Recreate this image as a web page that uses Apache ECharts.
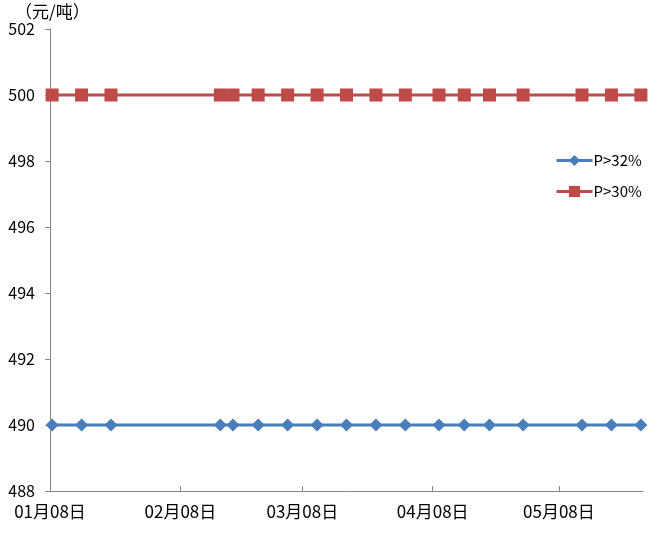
<!DOCTYPE html>
<html><head><meta charset="utf-8">
<script src="https://cdn.jsdelivr.net/npm/echarts@6/dist/echarts.min.js"></script>
<style>html,body{margin:0;padding:0;background:#fff}#c{width:667px;height:542px}</style>
</head><body><div id="c"></div>
<script>
const dates = ['2016-01-08','2016-01-15','2016-01-22','2016-02-17','2016-02-20','2016-02-26','2016-03-04','2016-03-11','2016-03-18','2016-03-25','2016-04-01','2016-04-09','2016-04-15','2016-04-21','2016-04-29','2016-05-13','2016-05-20','2016-05-27'];
const p32 = [490,490,490,490,490,490,490,490,490,490,490,490,490,490,490,490,490,490];
const p30 = [500,500,500,500,500,500,500,500,500,500,500,500,500,500,500,500,500,500];
const tickDates = ['2016-01-08','2016-02-08','2016-03-08','2016-04-08','2016-05-08'];
const tickLabels = ['01月08日','02月08日','03月08日','04月08日','05月08日'];
const startDate = '2016-01-08';
const endDate = '2016-05-28';

const DAY = 86400000;
const day = s => (Date.parse(s + 'T00:00:00Z') - Date.parse(startDate + 'T00:00:00Z')) / DAY;
const tickVals = tickDates.map(day);
const font = '"Noto Sans CJK SC", "Noto Sans", sans-serif';
const mk = (vals) => dates.map((d, i) => [day(d) + 0.5, vals[i]]);

const chart = echarts.init(document.getElementById('c'), null, {renderer: 'canvas'});
chart.setOption({
  animation: false,
  backgroundColor: '#fff',
  textStyle: {fontFamily: font},
  title: {text: '（元/吨）', left: 10, top: -2, textStyle: {fontSize: 17, fontWeight: 'normal', color: '#000', fontFamily: font}},
  grid: {left: 50, right: 24, top: 29, bottom: 51, containLabel: false},
  legend: {
    orient: 'vertical', left: 550, top: 148, itemGap: 16, itemWidth: 36, itemHeight: 14,
    lineStyle: {width: 3},
    textStyle: {fontSize: 15, color: '#000', fontFamily: font, padding: [0,0,0,-4]},
    data: ['P>32%', 'P>30%']
  },
  xAxis: {
    type: 'value', min: 0, max: day(endDate),
    splitLine: {show: false},
    axisLine: {lineStyle: {color: '#868686', width: 1}},
    axisTick: {show: true, inside: true, length: 5, customValues: tickVals, lineStyle: {color: '#868686'}},
    axisLabel: {customValues: tickVals, margin: 12, fontSize: 17, color: '#000', fontFamily: font,
      formatter: v => tickLabels[tickVals.indexOf(v)] || ''}
  },
  yAxis: {
    type: 'value', min: 488, max: 502, interval: 2,
    splitLine: {show: false},
    axisLine: {show: true, lineStyle: {color: '#868686', width: 1}},
    axisTick: {show: true, length: 5, lineStyle: {color: '#868686'}},
    axisLabel: {margin: 15, fontSize: 16, color: '#000', fontFamily: font}
  },
  series: [
    {name: 'P>32%', type: 'line', data: mk(p32), symbol: 'diamond', symbolSize: [13, 13],
     itemStyle: {color: '#4A7EBB'}, lineStyle: {color: '#4A7EBB', width: 3}},
    {name: 'P>30%', type: 'line', data: mk(p30), symbol: 'rect', symbolSize: 13,
     itemStyle: {color: '#BE4B48'}, lineStyle: {color: '#BE4B48', width: 3}}
  ]
});
</script></body></html>
